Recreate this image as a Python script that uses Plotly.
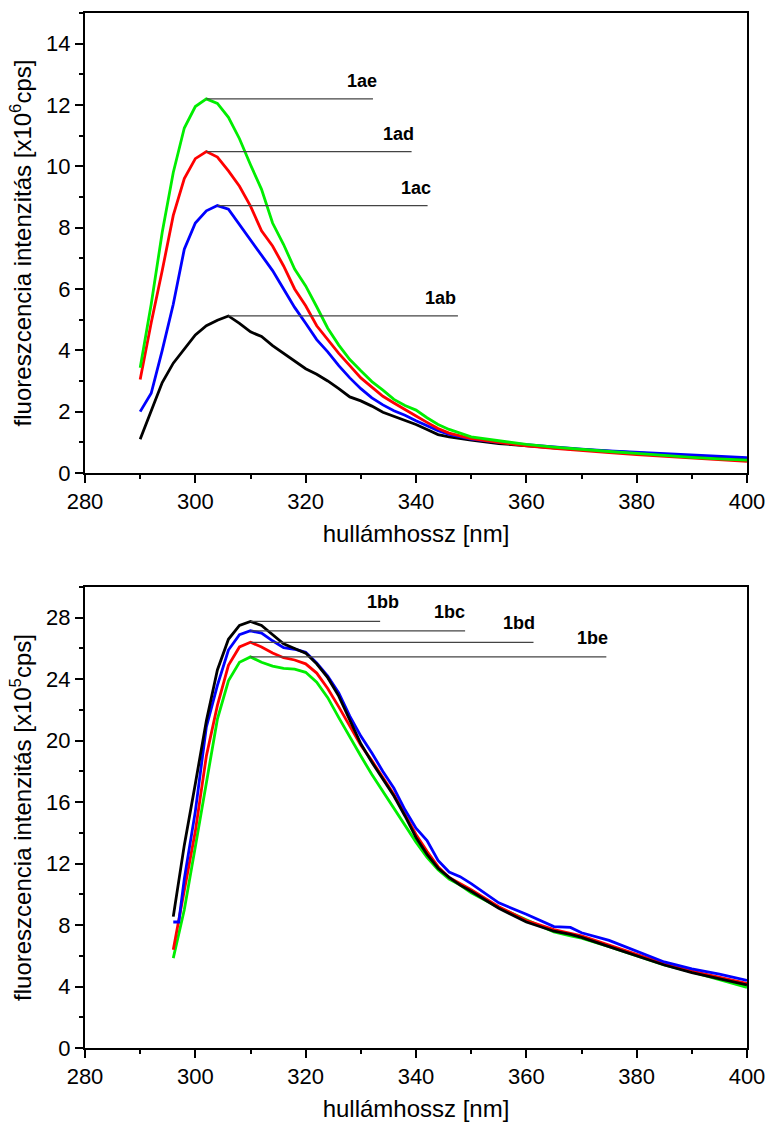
import plotly.graph_objects as go

# ---------------- data: upper panel (x10^6 cps) ----------------
wl_top = [290, 292, 294, 296, 298, 300, 302, 304, 306, 308, 310, 312, 314, 316, 318, 320,
          322, 324, 326, 328, 330, 332, 334, 336, 338, 340, 342, 344, 346, 348, 350,
          355, 360, 365, 370, 375, 380, 385, 390, 395, 400]
s_1ab = [1.10, 2.00, 2.95, 3.58, 4.05, 4.50, 4.80, 4.98, 5.12, 4.88, 4.60, 4.45, 4.15, 3.90, 3.65, 3.40,
         3.22, 3.00, 2.75, 2.48, 2.35, 2.18, 1.98, 1.85, 1.73, 1.58, 1.42, 1.25, 1.18, 1.12, 1.07,
         0.96, 0.88, 0.82, 0.76, 0.71, 0.65, 0.59, 0.54, 0.49, 0.45]
s_1ac = [2.00, 2.60, 4.00, 5.50, 7.30, 8.15, 8.55, 8.72, 8.60, 8.10, 7.60, 7.10, 6.60, 6.00, 5.40, 4.88,
         4.35, 3.95, 3.50, 3.10, 2.75, 2.45, 2.22, 2.03, 1.88, 1.70, 1.54, 1.38, 1.26, 1.17, 1.10,
         1.00, 0.92, 0.85, 0.78, 0.72, 0.68, 0.63, 0.59, 0.55, 0.50]
s_1ad = [3.05, 4.90, 6.60, 8.40, 9.60, 10.25, 10.48, 10.30, 9.85, 9.35, 8.70, 7.90, 7.40, 6.75, 6.00, 5.45,
         4.80, 4.35, 3.90, 3.50, 3.10, 2.80, 2.50, 2.28, 2.08, 1.86, 1.65, 1.45, 1.30, 1.20, 1.12,
         1.00, 0.88, 0.80, 0.72, 0.66, 0.60, 0.54, 0.48, 0.43, 0.38]
s_1ae = [3.43, 5.50, 7.85, 9.80, 11.25, 11.95, 12.20, 12.05, 11.60, 10.90, 10.05, 9.25, 8.15, 7.45, 6.65, 6.10,
         5.42, 4.72, 4.17, 3.70, 3.33, 2.98, 2.70, 2.40, 2.20, 2.05, 1.80, 1.58, 1.42, 1.29, 1.18,
         1.05, 0.93, 0.84, 0.76, 0.70, 0.64, 0.57, 0.51, 0.46, 0.42]

# ---------------- data: lower panel (x10^5 cps) ----------------
wl_bot = [296, 297, 298, 300, 302, 304, 306, 308, 310, 312, 314, 316, 318, 320, 322, 324, 326, 328,
          330, 332, 334, 336, 338, 340, 342, 344, 346, 348, 350,
          355, 360, 365, 368, 370, 375, 380, 385, 390, 395, 400]
s_1bb = [8.55, 11.0, 13.2, 17.2, 21.3, 24.6, 26.6, 27.5, 27.76, 27.5, 26.9, 26.3, 26.0, 25.7, 25.0, 24.1, 22.9, 21.3,
         19.8, 18.6, 17.5, 16.4, 15.1, 13.7, 12.6, 11.7, 11.1, 10.6, 10.2,
         9.1, 8.2, 7.6, 7.4, 7.2, 6.6, 6.0, 5.4, 4.9, 4.5, 4.1]
s_1bc = [8.20, 8.20, 11.0, 15.4, 20.9, 23.6, 25.9, 26.9, 27.15, 27.0, 26.5, 26.05, 25.95, 25.75, 25.05, 24.2, 23.1, 21.6,
         20.3, 19.2, 18.0, 16.9, 15.5, 14.3, 13.5, 12.2, 11.45, 11.15, 10.7,
         9.45, 8.7, 7.9, 7.85, 7.5, 7.0, 6.3, 5.6, 5.15, 4.8, 4.4]
s_1bd = [6.40, 8.3, 10.2, 14.1, 19.0, 22.3, 24.9, 26.1, 26.4, 26.1, 25.7, 25.4, 25.25, 25.0, 24.4, 23.4, 22.2, 20.9,
         19.7, 18.7, 17.6, 16.5, 15.2, 13.9, 12.8, 11.8, 11.1, 10.7, 10.3,
         9.2, 8.3, 7.7, 7.45, 7.3, 6.7, 6.1, 5.5, 5.0, 4.6, 4.2]
s_1be = [5.85, 7.4, 9.0, 13.1, 17.3, 21.4, 23.9, 25.1, 25.45, 25.1, 24.85, 24.7, 24.65, 24.45, 23.8, 22.8, 21.5, 20.2,
         19.0, 17.8, 16.7, 15.6, 14.5, 13.4, 12.4, 11.6, 11.0, 10.6, 10.1,
         9.15, 8.35, 7.55, 7.3, 7.15, 6.6, 6.0, 5.4, 4.95, 4.45, 3.95]

# label names, line end wavelengths and label x positions (data units)
top_names = ["1ab", "1ac", "1ad", "1ae"]
top_line_end = [347.6, 342.1, 339.2, 332.2]
top_label_x = [344.4, 340.0, 336.9, 330.2]
bot_names = ["1bb", "1bc", "1bd", "1be"]
bot_line_end = [333.5, 348.9, 361.3, 374.5]
bot_label_x = [334.0, 346.1, 358.7, 372.0]

colors = ["#000000", "#0000FF", "#FF0000", "#00EE00"]

FONT = "Liberation Sans, Arial, sans-serif"

fig = go.Figure()

top_series = [s_1ab, s_1ac, s_1ad, s_1ae]
bot_series = [s_1bb, s_1bc, s_1bd, s_1be]

for ys, c, n in zip(top_series, colors, top_names):
    fig.add_trace(go.Scatter(x=wl_top, y=ys, mode="lines", name=n,
                             line=dict(color=c, width=2.8), xaxis="x", yaxis="y",
                             showlegend=False))
bot_order = [3, 2, 1, 0]
for i in bot_order:
    fig.add_trace(go.Scatter(x=wl_bot, y=bot_series[i], mode="lines", name=bot_names[i],
                             line=dict(color=colors[i], width=2.8), xaxis="x2", yaxis="y2",
                             showlegend=False))

shapes = []
annotations = []


def add_marks(series, wls, names, ends, labx, xref, yref, lab_dy):
    for ys, n, xe, xl in zip(series, names, ends, labx):
        k = max(range(len(ys)), key=lambda j: ys[j])
        xp, yp = wls[k], ys[k]
        shapes.append(dict(type="line", xref=xref, yref=yref, x0=xp, x1=xe, y0=yp, y1=yp,
                           line=dict(color="#444444", width=1.3)))
        annotations.append(dict(x=xl, y=yp, xref=xref, yref=yref, text="<b>%s</b>" % n,
                                showarrow=False, yshift=lab_dy,
                                font=dict(family=FONT, size=18, color="black")))


add_marks(top_series, wl_top, top_names, top_line_end, top_label_x, "x", "y", 18)
add_marks(bot_series, wl_bot, bot_names, bot_line_end, bot_label_x, "x2", "y2", 19)

axis_common = dict(showline=True, linecolor="black", linewidth=2, mirror=True,
                   ticks="outside", ticklen=8, tickwidth=1.5, tickcolor="black",
                   showgrid=False, zeroline=False, automargin=False,
                   tickfont=dict(family=FONT, size=22, color="black"))
minor_common = dict(ticks="outside", ticklen=4, tickwidth=1.5, tickcolor="black", showgrid=False)
TITLE_FONT = dict(family=FONT, size=24, color="black")

fig.update_layout(
    width=769, height=1122,
    margin=dict(l=85, r=22, t=13, b=74),
    paper_bgcolor="white", plot_bgcolor="white",
    font=dict(family=FONT, color="black"),
    xaxis=dict(domain=[0, 1], anchor="y", range=[280, 400], dtick=20, tick0=280,
               minor=dict(dtick=10, **minor_common),
               title=dict(text="hullámhossz [nm]", font=TITLE_FONT, standoff=12),
               **axis_common),
    yaxis=dict(domain=[0.5556, 1], anchor="x", range=[0, 15], dtick=2, tick0=0,
               minor=dict(dtick=1, **minor_common),
               title=dict(text="fluoreszcencia intenzitás [x10<sup>6</sup>cps]",
                          font=TITLE_FONT, standoff=8),
               **axis_common),
    xaxis2=dict(domain=[0, 1], anchor="y2", range=[280, 400], dtick=20, tick0=280,
                minor=dict(dtick=10, **minor_common),
                title=dict(text="hullámhossz [nm]", font=TITLE_FONT, standoff=12),
                **axis_common),
    yaxis2=dict(domain=[0, 0.4454], anchor="x2", range=[0, 30], dtick=4, tick0=0,
                minor=dict(dtick=2, **minor_common),
                title=dict(text="fluoreszcencia intenzitás [x10<sup>5</sup>cps]",
                           font=TITLE_FONT, standoff=8),
                **axis_common),
    shapes=shapes,
    annotations=annotations,
)

fig.write_html("out.html")
